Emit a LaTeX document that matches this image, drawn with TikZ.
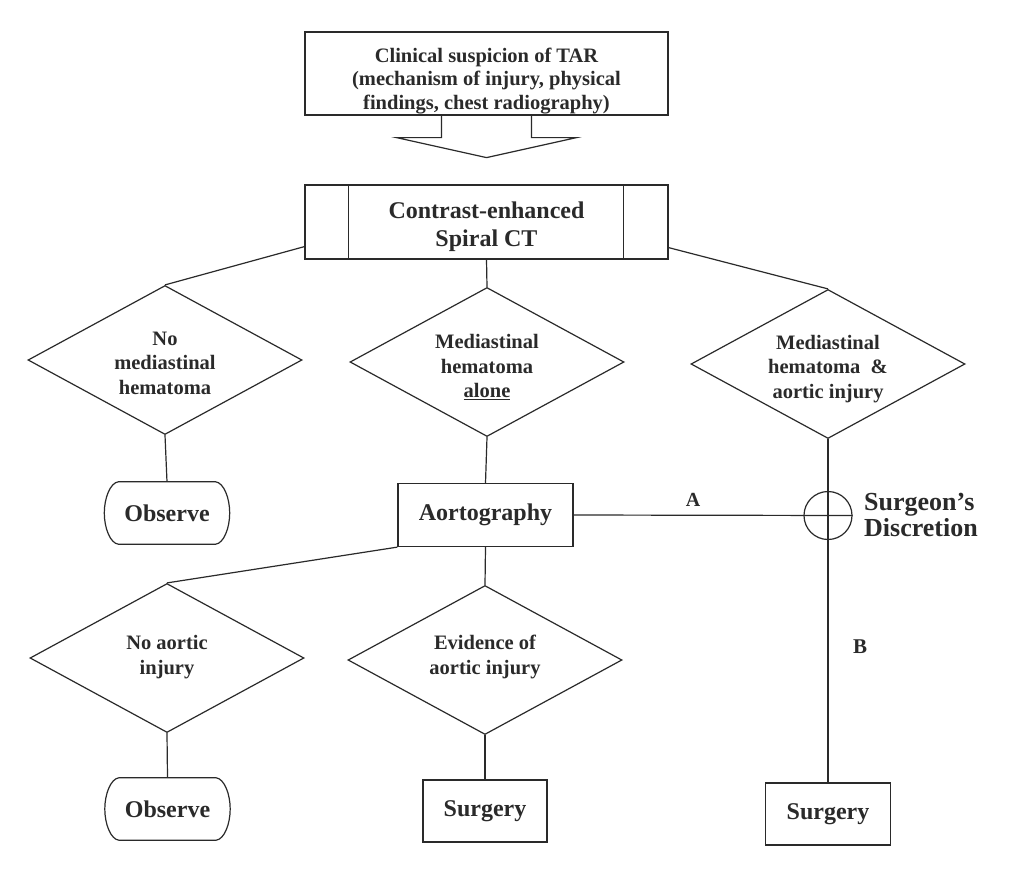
\documentclass[tikz,border=0pt]{standalone}
\usepackage{fontspec}
\setmainfont{Liberation Serif}
\usetikzlibrary{shapes.geometric,calc}
\definecolor{ink}{HTML}{2A2A2A}
\newcommand\obsoutline[1]{%
  \draw[conn] ($(#1.north west)+(14,0)$) -- ($(#1.north east)+(-14,0)$)
    .. controls ($(#1.north east)+(-6,1)$) and ($(#1.north east)+(0,16)$) .. (#1.east)
    .. controls ($(#1.south east)+(0,-16)$) and ($(#1.south east)+(-6,-1)$) .. ($(#1.south east)+(-14,0)$)
    -- ($(#1.south west)+(14,0)$)
    .. controls ($(#1.south west)+(6,-1)$) and ($(#1.south west)+(0,-16)$) .. (#1.west)
    .. controls ($(#1.north west)+(0,16)$) and ($(#1.north west)+(6,1)$) .. cycle;}
\begin{document}
\begin{tikzpicture}[x=1pt,y=-1pt,
  every node/.style={text=ink},
  ln/.style={draw=ink, line width=1.2pt},
  conn/.style={draw=ink, line width=1.2pt},
  dia/.style={ln, diamond, aspect=1.84, minimum width=274pt, minimum height=149pt,
    inner sep=0pt},
  dtext/.style={inner sep=0pt, align=center, font=\bfseries\fontsize{20.5}{24.5}\selectfont},
  boxx/.style={ln, rectangle, minimum width=124pt, minimum height=62pt, inner sep=0pt,
    font=\bfseries\fontsize{24}{28}\selectfont},
  obs/.style={rectangle, minimum width=125pt, minimum height=62pt, inner sep=0pt,
    font=\bfseries\fontsize{24}{28}\selectfont},
  plain/.style={inner sep=0pt, align=center}]
\useasboundingbox (0,0) rectangle (1033,871);
\fill[white] (0,0) rectangle (1033,871);

% top box
\node[ln, minimum width=363pt, minimum height=83pt, inner sep=0pt] (top) at (486.5,73.5) {};
\node[plain, font=\bfseries\fontsize{20.5}{23.5}\selectfont] (toptext) at (486.5,81)
  {Clinical suspicion of TAR\\(mechanism of injury, physical\\findings, chest radiography)};
% block arrow
\draw[conn, line join=miter] ($(top.south)+(-45,0)$) -- ++(0,22) -- ++(-45,0) -- ($(top.south)+(0,42)$)
  -- ($(top.south)+(90,22)$) -- ++(-45,0) -- ($(top.south)+(45,0)$);

% CT box
\node[ln, minimum width=363pt, minimum height=74pt, inner sep=0pt] (ct) at (486.5,222) {};
\node[plain, font=\bfseries\fontsize{24}{28}\selectfont] (cttext) at (486.5,227)
  {Contrast-enhanced\\Spiral CT};
\draw[conn] ($(ct.north west)+(44,0)$) -- ($(ct.south west)+(44,0)$);
\draw[conn] ($(ct.north east)+(-45,0)$) -- ($(ct.south east)+(-45,0)$);

% diamonds row 1
\node[dia] (d1) at (165,360) {};
\node[dtext] (d1t) at ($(d1)+(0,3)$) {No\\mediastinal\\hematoma};
\node[dia] (d2) at (487,362) {};
\node[dtext] (d2t) at ($(d2)+(0,5)$) {Mediastinal\\hematoma\\\underline{alone}};
\node[dia] (d3) at (828,364) {};
\node[dtext] (d3t) at ($(d3)+(0,5)$) {Mediastinal\\hematoma\ \ \&\\aortic injury};

% row 2
\node[obs] (obs1) at (167,513) {Observe};
\obsoutline{obs1}
\node[ln, minimum width=175pt, minimum height=63pt, inner sep=0pt,
  font=\bfseries\fontsize{24}{28}\selectfont] (aorto) at (485.5,515) {Aortography};
\node[ln, circle, minimum size=48pt, inner sep=0pt] (circ) at (828,515.5) {};
\node[plain, anchor=west, align=left, font=\bfseries\fontsize{26}{26}\selectfont] (sd) at (864,515)
  {Surgeon’s\\Discretion};

% row 3
\node[dia] (d4) at (167,658) {};
\node[dtext] (d4t) at ($(d4)+(0,-1)$) {No aortic\\injury};
\node[dia] (d5) at (485,660) {};
\node[dtext] (d5t) at ($(d5)+(0,-3)$) {Evidence of\\aortic injury};

% row 4
\node[obs] (obs2) at (167.5,809) {Observe};
\obsoutline{obs2}
\node[boxx] (surg1) at (485,811) {Surgery};
\node[boxx, minimum width=125pt] (surg2) at (828,814) {Surgery};

% labels
\node[plain, font=\bfseries\fontsize{20}{24}\selectfont] (labA) at (693,500) {A};
\node[plain, font=\bfseries\fontsize{21}{24}\selectfont] (labB) at (860,647) {B};

% connectors
\draw[conn] ($(ct.south west)+(0,-13)$) -- (d1.north);
\draw[conn] (ct.south) -- (d2.north);
\draw[conn] ($(ct.south east)+(0,-12)$) -- (d3.north);
\draw[conn] (d1.south) -- (obs1.north);
\draw[conn] (d2.south) -- (aorto.north);
\draw[conn] (aorto.east) -- (circ.east);
\draw[conn] (d3.south) -- (surg2.north);
\draw[conn] (aorto.south west) -- (d4.north);
\draw[conn] (aorto.south) -- (d5.north);
\draw[conn] (d4.south) -- (obs2.north);
\draw[conn] (d5.south) -- (surg1.north);
\end{tikzpicture}
\end{document}
